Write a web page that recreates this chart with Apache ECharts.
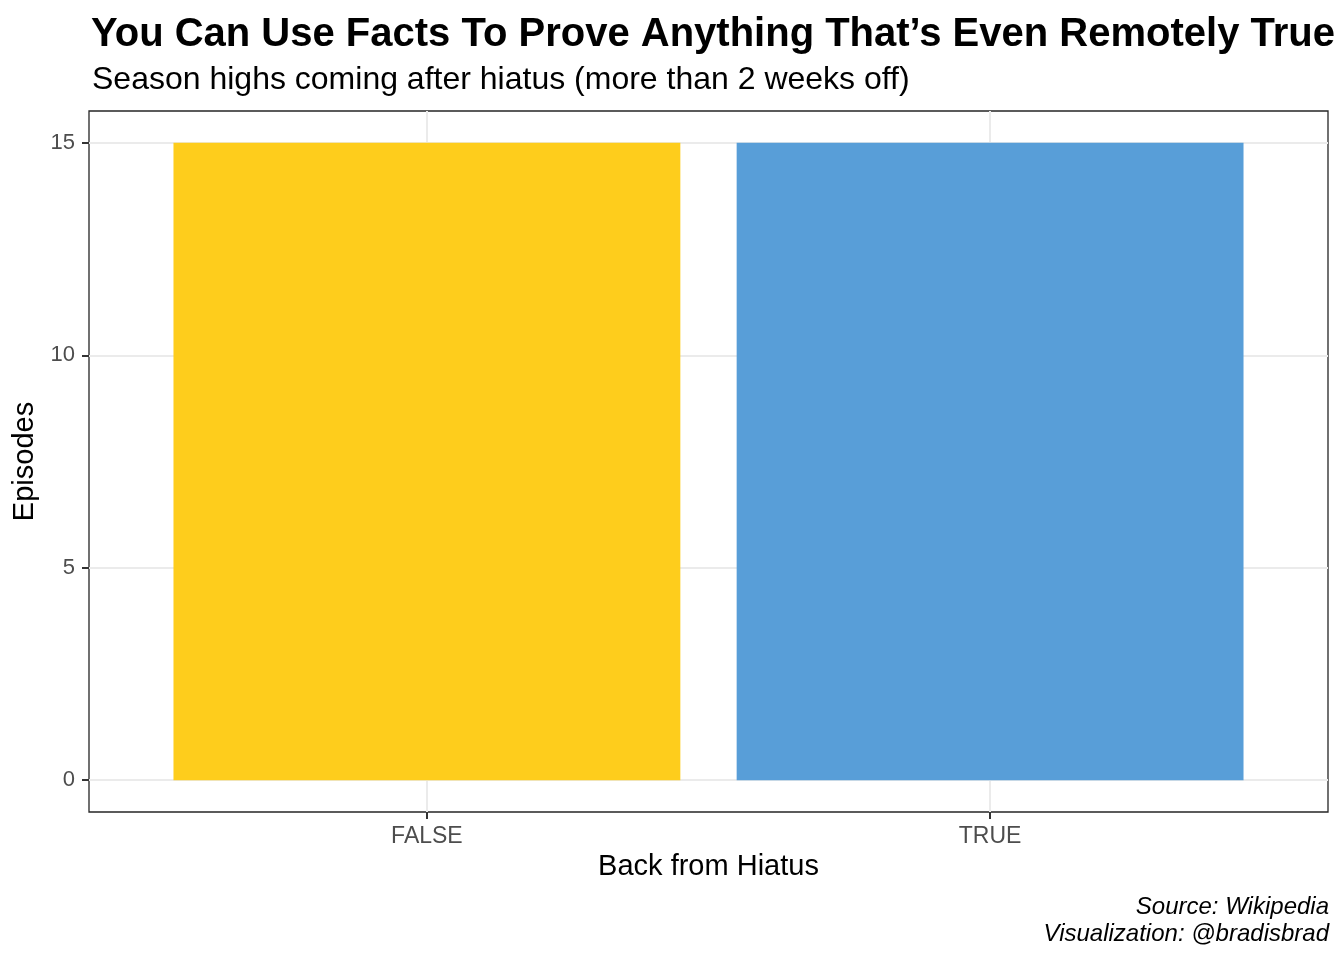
<!DOCTYPE html>
<html>
<head>
<meta charset="utf-8">
<script src="https://cdn.jsdelivr.net/npm/echarts@6/dist/echarts.min.js"></script>
<style>
html,body{margin:0;padding:0;background:#fff;}
#chart{width:1344px;height:960px;}
</style>
</head>
<body>
<div id="chart"></div>
<script>
const categories = ['FALSE', 'TRUE'];
const episodes = [15, 15];
const barColors = ['#FECD1C', '#589ED8'];
const yTicks = [0, 5, 10, 15];
const captionLines = ['Source: Wikipedia', 'Visualization: @bradisbrad'];

const FONT = '"Liberation Sans", Arial, sans-serif';
const gridLeft = 89, gridTop = 111, gridW = 1239, gridH = 701;
const xMin = 0.4, xMax = 2.6;
const barWidthPx = 0.9 / (xMax - xMin) * gridW;

const chart = echarts.init(document.getElementById('chart'), null, {renderer: 'canvas'});
chart.setOption({
  backgroundColor: '#ffffff',
  animation: false,
  title: [
    {text: 'You Can Use Facts To Prove Anything That\u2019s Even Remotely True', left: 86, top: 10,
     textStyle: {fontFamily: FONT, fontSize: 40, fontWeight: 'bold', color: '#000'}},
    {text: 'Season highs coming after hiatus (more than 2 weeks off)', left: 87, top: 59,
     textStyle: {fontFamily: FONT, fontSize: 32, fontWeight: 'normal', color: '#000'}}
  ],
  graphic: captionLines.map((t, i) => ({
    type: 'text', right: 15, top: 895 + i * 27, z: 10,
    style: {text: t, font: 'italic 24px ' + FONT, fill: '#000'}
  })),
  grid: {left: gridLeft, top: gridTop, width: gridW, height: gridH, show: true, borderColor: '#262626', borderWidth: 1.3, containLabel: false},
  xAxis: {
    type: 'value', min: xMin, max: xMax,
    name: 'Back from Hiatus', nameLocation: 'middle', nameGap: 40,
    nameTextStyle: {fontFamily: FONT, fontSize: 29, color: '#000'},
    axisLine: {show: false, onZero: false},
    axisTick: {show: true, customValues: [1, 2], length: 7, lineStyle: {color: '#333', width: 2}},
    axisLabel: {customValues: [1, 2], formatter: v => categories[Math.round(v) - 1] || '', fontFamily: FONT, fontSize: 23, color: '#4d4d4d', margin: 13},
    splitLine: {show: true, lineStyle: {color: '#ebebeb', width: 2}}
  },
  yAxis: {
    type: 'value', min: -0.75, max: 15.75,
    name: 'Episodes', nameLocation: 'middle', nameGap: 45, nameRotate: 90,
    nameTextStyle: {fontFamily: FONT, fontSize: 29, color: '#000'},
    axisLine: {show: false, onZero: false},
    axisTick: {show: true, customValues: yTicks, length: 7, lineStyle: {color: '#333', width: 2}},
    axisLabel: {customValues: yTicks, fontFamily: FONT, fontSize: 22, color: '#4d4d4d', margin: 14},
    splitLine: {show: true, lineStyle: {color: '#ebebeb', width: 2}}
  },
  series: [{
    type: 'bar',
    barWidth: barWidthPx,
    data: categories.map((c, i) => ({value: [i + 1, episodes[i]], itemStyle: {color: barColors[i]}})),
    z: 3
  }]
});
</script>
</body>
</html>
